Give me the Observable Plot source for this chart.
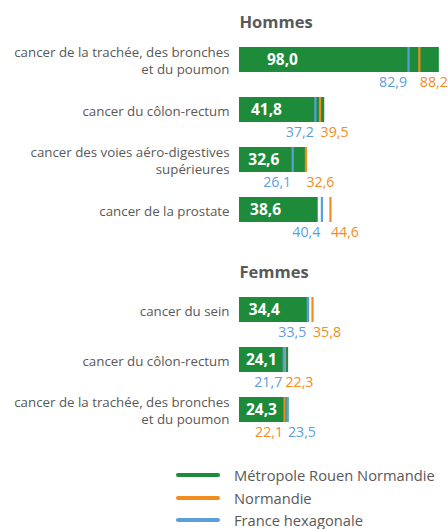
<!DOCTYPE html>
<html>
<head>
<meta charset="utf-8">
<script src="https://cdn.jsdelivr.net/npm/d3@7"></script>
<script src="https://cdn.jsdelivr.net/npm/@observablehq/plot@0.6"></script>
<style>
  body { margin: 0; background: #fff; font-family: "Open Sans", sans-serif; }
  #chart { width: 448px; }
  .legend { width: 448px; }
  .legend .row { height: 22.6px; display: flex; align-items: center; color: #595959; font-size: 14.7px; }
  .legend .sw { display: inline-block; width: 44px; height: 4px; border-radius: 2px; margin-left: 176px; margin-right: 14px; }
</style>
</head>
<body>
<div id="chart"></div>
<script>
// ---- data ----
const sexes = ["Hommes", "Hommes", "Hommes", "Hommes", "Femmes", "Femmes", "Femmes"];
const categories = [
  "cancer de la trachée, des bronches\net du poumon",
  "cancer du côlon-rectum",
  "cancer des voies aéro-digestives\nsupérieures",
  "cancer de la prostate",
  "cancer du sein",
  "cancer du côlon-rectum",
  "cancer de la trachée, des bronches\net du poumon"
];
const metropole = [98.0, 41.8, 32.6, 38.6, 34.4, 24.1, 24.3];
const normandie = [88.2, 39.5, 32.6, 44.6, 35.8, 22.3, 22.1];
const france = [82.9, 37.2, 26.1, 40.4, 33.5, 21.7, 23.5];
const seriesNames = ["Métropole Rouen Normandie", "Normandie", "France hexagonale"];
const seriesColors = ["#1e8b3b", "#f28c1e", "#5b9fdb"];

// ---- derived tables ----
const fmt = v => v.toFixed(1).replace(".", ",");
const rows = categories.map((c, i) => ({
  key: sexes[i] + "|" + i, sex: sexes[i], category: c,
  metro: metropole[i], norm: normandie[i], fr: france[i]
}));
const yDomain = [];
rows.forEach((r, i) => {
  if (i > 0 && rows[i - 1].sex !== r.sex) yDomain.push("gap");
  yDomain.push(r.key);
});
const refs = rows.flatMap(r => [
  {key: r.key, series: seriesNames[1], value: r.norm, anchor: r.norm > r.fr ? "start" : "end"},
  {key: r.key, series: seriesNames[2], value: r.fr, anchor: r.fr > r.norm ? "start" : "end"}
]);
const titles = rows.filter((r, i) => i === 0 || rows[i - 1].sex !== r.sex);

const gray = "#595959";
const chart = Plot.plot({
  width: 448,
  height: 464,
  marginLeft: 239,
  marginRight: 0,
  marginTop: 0,
  marginBottom: 0,
  style: {background: "#fff", fontFamily: "'Open Sans', sans-serif", color: gray},
  x: {domain: [0, 102.5], axis: null},
  y: {type: "band", domain: yDomain, range: [33.1, 435.8], paddingInner: 0.51, paddingOuter: 0.255, axis: null},
  color: {domain: seriesNames, range: seriesColors},
  marks: [
    Plot.barX(rows, {x: "metro", y: "key", fill: seriesColors[0]}),
    Plot.tickX(refs, {x: "value", y: "key", stroke: "series", strokeWidth: 2.2}),
    Plot.text(rows, {x: d => d.metro * 0.14, y: "key", text: d => fmt(d.metro), dx: 15, textAnchor: "middle", fill: "white", fontWeight: "bold", fontSize: 15.5}),
    Plot.text(refs.filter(d => d.anchor === "end"), {x: "value", y: "key", text: d => fmt(d.value), textAnchor: "end", dx: -1.5, dy: 22, fill: "series", fontSize: 14.2}),
    Plot.text(refs.filter(d => d.anchor === "start"), {x: "value", y: "key", text: d => fmt(d.value), textAnchor: "start", dx: 0.5, dy: 22, fill: "series", fontSize: 14.2}),
    Plot.text(rows, {x: 0, y: "key", text: "category", textAnchor: "end", dx: -10, fill: gray, fontSize: 13.3, lineHeight: 1.3}),
    Plot.text(titles, {x: 0, y: "key", text: "sex", textAnchor: "start", dy: -37.5, fontWeight: "bold", fontSize: 16.5, fill: gray})
  ]
});
document.getElementById("chart").append(chart);

// ---- legend ----
const legend = document.createElement("div");
legend.className = "legend";
seriesNames.forEach((name, i) => {
  const row = document.createElement("div");
  row.className = "row";
  const sw = document.createElement("span");
  sw.className = "sw";
  sw.style.background = seriesColors[i];
  const t = document.createElement("span");
  t.textContent = name;
  row.append(sw, t);
  legend.append(row);
});
document.body.append(legend);
</script>
</body>
</html>
